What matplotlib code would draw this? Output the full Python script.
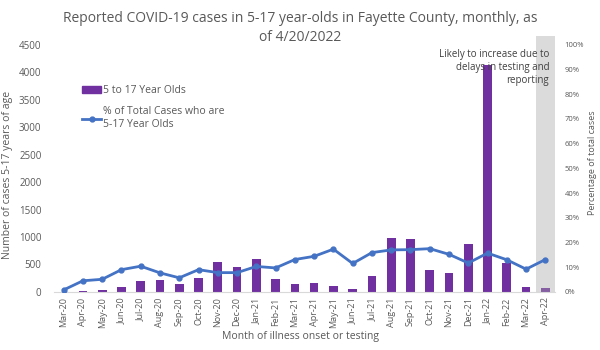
import matplotlib
matplotlib.use("Agg")
import matplotlib.pyplot as plt
from matplotlib.lines import Line2D
from matplotlib.patches import Patch

plt.rcParams['font.family'] = ['Open Sans', 'DejaVu Sans']

months = ["Mar-20", "Apr-20", "May-20", "Jun-20", "Jul-20", "Aug-20", "Sep-20", "Oct-20",
          "Nov-20", "Dec-20", "Jan-21", "Feb-21", "Mar-21", "Apr-21", "May-21", "Jun-21",
          "Jul-21", "Aug-21", "Sep-21", "Oct-21", "Nov-21", "Dec-21", "Jan-22", "Feb-22",
          "Mar-22", "Apr-22"]
cases = [5, 20, 35, 95, 195, 210, 150, 255, 550, 450, 595, 240, 150, 165, 115, 50,
         285, 980, 955, 395, 340, 880, 4135, 520, 95, 80]
pct = [0.8, 4.5, 5.1, 9.0, 10.4, 7.7, 5.7, 9.0, 7.8, 7.8, 10.3, 9.7, 13.1, 14.4, 17.3, 11.5,
       15.9, 17.0, 17.1, 17.5, 15.2, 11.7, 15.7, 13.0, 9.2, 13.1]

TXT = "#595959"
fig = plt.figure(figsize=(6, 3.5), dpi=100)
ax = fig.add_axes([0.09, 0.166, 0.835, 0.706])
x = list(range(len(months)))
last = len(months) - 1

ax.bar(x, cases, width=0.45, color="#7030A0", zorder=2)
# shaded box over the latest (incomplete) month
ax.axvspan(last - 0.5, last + 0.5, ymin=0, ymax=1.035, color="#A6A6A6",
           alpha=0.4, lw=0, zorder=3, clip_on=False)
ax.set_xlim(-0.5, last + 0.5)
ax.set_ylim(0, 4500)
ax.set_yticks(range(0, 4501, 500))
ax.set_xticks(x)
ax.set_xticklabels(months, rotation=90)
ax.tick_params(axis="x", length=0, labelsize=6.5, colors=TXT, pad=4)
ax.tick_params(axis="y", length=0, labelsize=7, colors=TXT, pad=9)
for s in ["top", "right", "left"]:
    ax.spines[s].set_visible(False)
ax.spines["bottom"].set_color("#D9D9D9")

ax2 = ax.twinx()
ax2.plot(x, [p / 100 for p in pct], color="#4472C4", lw=2, marker="o", ms=3.5, zorder=4)
ax2.set_ylim(0, 1.0)
ax2.set_yticks([i / 10 for i in range(11)])
ax2.set_yticklabels([f"{i * 10}%" for i in range(11)])
ax2.tick_params(axis="y", length=0, labelsize=5.5, colors=TXT, pad=7)
for s in ax2.spines.values():
    s.set_visible(False)

handles = [Patch(color="#7030A0"),
           Line2D([0], [0], color="#4472C4", lw=2, marker="o", ms=3.5)]
ax2.legend(handles, ["5 to 17 Year Olds", "% of Total Cases who are\n5-17 Year Olds"],
           loc="upper left", bbox_to_anchor=(0.038, 0.875), frameon=False, fontsize=7.5,
           handlelength=1.8, handletextpad=0.15, labelspacing=1.0, labelcolor=TXT)

ax2.text(last + 0.2, 0.985, "Likely to increase due to\ndelays in testing and\nreporting",
         ha="right", va="top", fontsize=7, color="#404040", linespacing=1.3)

fig.text(0.5, 0.921, "Reported COVID-19 cases in 5-17 year-olds in Fayette County, monthly, as\nof 4/20/2022",
         ha="center", va="center", fontsize=10, color=TXT, linespacing=1.35)
fig.text(0.5, 0.038, "Month of illness onset or testing", ha="center", va="center",
         fontsize=7.5, color=TXT)
fig.text(0.012, 0.5, "Number of cases 5-17 years of age", rotation=90, ha="center",
         va="center", fontsize=7.5, color=TXT)
fig.text(0.988, 0.535, "Percentage of total cases", rotation=90, ha="center",
         va="center", fontsize=6.5, color=TXT)

fig.savefig("out.png", dpi=100)
